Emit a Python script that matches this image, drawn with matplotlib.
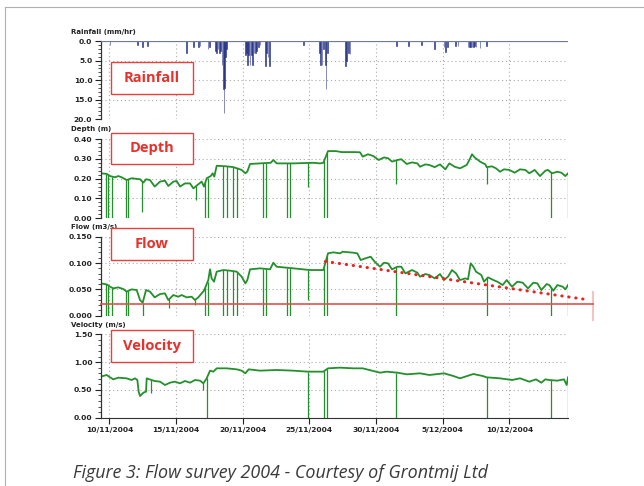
import numpy as np
import matplotlib
matplotlib.use('Agg')
import matplotlib.pyplot as plt
import matplotlib.dates as mdates
from matplotlib.ticker import MultipleLocator, FormatStrFormatter
from matplotlib.patches import Rectangle
from matplotlib.lines import Line2D
from datetime import datetime

# ---- data (days after 10/11/2004 00:00) ----
rain_days = [0.05, 2.1, 2.5, 2.85, 5.8, 6.3, 6.7, 6.8, 7.4, 7.5,
             7.95, 8.05, 8.15, 8.25, 8.35, 8.45, 8.55, 8.6, 8.65, 8.72, 8.8,
             10.2, 10.3, 10.35, 10.45, 10.55, 10.65, 10.75, 10.85, 10.95, 11.05, 11.2, 11.3,
             11.7, 11.8, 11.9, 12.0, 14.55,
             15.75, 15.85, 15.95, 16.05, 16.2, 16.25, 16.35,
             17.7, 17.8, 17.95, 18.05,
             21.56, 22.43, 23.43, 24.38, 25.1, 25.2, 25.35, 25.95, 26.15,
             26.9, 27.0, 27.1, 27.2, 27.3, 27.4, 27.5, 27.8, 28.3]
rain_vals = [1.0, 1.0, 1.5, 1.2, 3.0, 1.5, 1.5, 1.2, 2.0, 1.5,
             2.5, 3.0, 2.0, 3.0, 2.5, 6.0, 12.3, 18.5, 12.0, 4.0, 2.0,
             3.5, 3.0, 6.2, 3.5, 6.2, 3.5, 6.0, 3.0, 3.0, 2.5, 1.5, 1.0,
             6.3, 3.0, 4.0, 6.3, 1.0,
             3.0, 6.0, 6.0, 2.0, 6.0, 12.2, 3.0,
             6.3, 5.0, 3.0, 3.2,
             1.2, 1.2, 1.0, 2.0, 1.5, 2.8, 1.5, 1.2, 1.2,
             1.5, 1.5, 1.5, 1.5, 1.5, 1.2, 1.5, 1.8, 1.2]

depth_days = [-0.65, -0.2, 0.05, 0.42, 0.67, 0.92, 1.3, 1.67, 2.3, 2.55, 2.75, 3.05,
              3.4, 3.8, 4.17, 4.42, 4.8, 5.05, 5.3, 5.67, 6.05, 6.3, 6.55, 6.92, 7.1,
              7.3, 7.6, 7.75, 7.87, 8.05, 8.3, 8.8, 9.3, 9.67, 9.92, 10.2, 10.35, 10.55,
              11.3, 12.1, 12.3, 12.55, 13.8, 15.3, 15.8, 16.05, 16.4, 17.0, 17.4, 18.4,
              18.8, 19.0, 19.4, 19.8, 20.2, 20.6, 20.9, 21.2, 21.6, 21.9, 22.3, 22.7,
              23.1, 23.3, 23.7, 24.0, 24.4, 24.8, 25.2, 25.5, 25.9, 26.3, 26.8, 27.0,
              27.2, 27.4, 27.8, 28.2, 28.3, 28.7, 29.0, 29.3, 29.6, 30.0, 30.4, 30.8,
              31.2, 31.5, 31.9, 32.3, 32.7, 32.9, 33.2, 33.6, 33.9, 34.2, 34.4]
depth_vals = [0.227, 0.224, 0.213, 0.207, 0.213, 0.207, 0.193, 0.202, 0.197, 0.180, 0.197, 0.193,
              0.160, 0.185, 0.190, 0.163, 0.185, 0.188, 0.160, 0.176, 0.176, 0.151, 0.165, 0.185, 0.160,
              0.202, 0.213, 0.227, 0.210, 0.265, 0.264, 0.262, 0.258, 0.250, 0.244, 0.227, 0.236, 0.274,
              0.277, 0.280, 0.294, 0.277, 0.277, 0.280, 0.277, 0.280, 0.339, 0.339, 0.334, 0.334,
              0.333, 0.311, 0.323, 0.314, 0.294, 0.307, 0.303, 0.286, 0.294, 0.298, 0.274, 0.282,
              0.277, 0.260, 0.272, 0.269, 0.258, 0.272, 0.247, 0.277, 0.260, 0.252, 0.269, 0.294,
              0.323, 0.307, 0.286, 0.272, 0.258, 0.262, 0.252, 0.235, 0.247, 0.244, 0.230, 0.247,
              0.244, 0.227, 0.244, 0.213, 0.240, 0.244, 0.227, 0.235, 0.230, 0.213, 0.227]
depth_drop_days = [-0.27, -0.07, 0.23, 1.25, 1.42, 2.42, 6.5, 7.2, 7.37, 8.55, 8.8, 9.3, 9.55,
                   11.55, 11.72, 13.35, 13.55, 14.93, 16.1, 16.35, 21.5, 28.35, 33.1, 34.4]
depth_drop_low = [0, 0, 0, 0, 0, 0.03, 0.09, 0, 0, 0, 0, 0, 0,
                  0, 0, 0, 0, 0.16, 0, 0, 0.173, 0.173, 0, 0]

flow_days = [-0.65, -0.2, 0.05, 0.3, 0.67, 1.05, 1.3, 1.67, 2.05, 2.3, 2.5, 2.75, 3.05,
             3.4, 3.8, 4.17, 4.42, 4.8, 5.17, 5.42, 5.8, 6.17, 6.42, 6.67, 6.92, 7.1,
             7.42, 7.55, 7.67, 7.85, 8.05, 8.55, 9.05, 9.55, 9.92, 10.2, 10.35, 10.55,
             11.3, 12.05, 12.3, 12.55, 13.8, 15.05, 15.8, 16.05, 16.4, 16.8, 17.3, 17.5,
             18.3, 18.6, 18.85, 19.2, 19.6, 19.9, 20.3, 20.6, 20.9, 21.2, 21.6, 21.9,
             22.2, 22.7, 23.1, 23.3, 23.7, 24.0, 24.4, 24.8, 25.1, 25.4, 25.7, 26.0,
             26.3, 26.7, 26.9, 27.1, 27.3, 27.5, 27.9, 28.1, 28.4, 28.8, 29.1, 29.5,
             29.8, 30.2, 30.6, 31.0, 31.4, 31.8, 32.1, 32.4, 32.8, 33.0, 33.3, 33.6,
             34.0, 34.2, 34.4]
flow_vals = [0.0614, 0.0595, 0.0551, 0.0519, 0.0538, 0.0506, 0.0456, 0.0500, 0.0487, 0.0297, 0.0247, 0.0487, 0.0456,
             0.0348, 0.0411, 0.0424, 0.0297, 0.0392, 0.0361, 0.0392, 0.0348, 0.0361, 0.0297, 0.0348, 0.0424, 0.0475,
             0.0677, 0.0880, 0.0709, 0.0646, 0.0836, 0.0867, 0.0855, 0.0836, 0.0741, 0.0614, 0.0677, 0.0880,
             0.0899, 0.0880, 0.1006, 0.0930, 0.0899, 0.0867, 0.0867, 0.0867, 0.1184, 0.1203, 0.1184, 0.1215,
             0.1196, 0.1184, 0.1057, 0.1089, 0.1120, 0.1025, 0.0930, 0.1006, 0.0994, 0.0880, 0.0930, 0.0930,
             0.0804, 0.0867, 0.0817, 0.0741, 0.0791, 0.0772, 0.0709, 0.0791, 0.0677, 0.0741, 0.0867, 0.0804,
             0.0677, 0.0709, 0.0690, 0.0994, 0.0930, 0.0836, 0.0772, 0.0646, 0.0728, 0.0677, 0.0646, 0.0582,
             0.0677, 0.0551, 0.0646, 0.0627, 0.0519, 0.0627, 0.0614, 0.0487, 0.0601, 0.0582, 0.0475, 0.0582,
             0.0551, 0.0500, 0.0582]
flow_drop_days = [-0.27, -0.07, 0.23, 1.25, 1.42, 2.5, 4.5, 6.45, 7.2, 7.37, 8.55, 8.8, 9.3, 9.55,
                  11.55, 11.72, 13.35, 13.55, 14.93, 16.1, 16.35, 21.5, 28.35, 33.1, 34.42]
flow_drop_low = [0, 0, 0, 0, 0, 0, 0.015, 0.02, 0, 0, 0, 0, 0, 0,
                 0, 0, 0, 0, 0.03, 0, 0, 0, 0, 0, 0]
flow_threshold = 0.022
threshold_end_day = 36.3
trend_days = [16.2, 35.7]
trend_vals = [0.103, 0.031]

vel_days = [-0.65, -0.2, 0.05, 0.3, 0.67, 1.3, 1.67, 1.92, 2.1, 2.2, 2.3, 2.55, 2.75, 2.8,
            3.0, 3.4, 3.8, 4.17, 4.55, 4.92, 5.3, 5.67, 6.05, 6.42, 6.8, 7.05, 7.3, 7.55,
            7.8, 8.05, 8.8, 9.55, 9.92, 10.2, 10.45, 11.3, 12.55, 13.8, 14.9, 15.8, 16.05,
            16.4, 17.3, 18.3, 19.0, 19.5, 20.3, 20.8, 21.6, 22.3, 23.3, 24.0, 25.1, 25.8,
            26.3, 27.3, 28.0, 28.3, 29.3, 30.2, 30.8, 31.5, 32.0, 32.4, 32.7, 33.0, 33.6,
            34.1, 34.3, 34.4]
vel_vals = [0.738, 0.768, 0.726, 0.690, 0.720, 0.708, 0.678, 0.708, 0.678, 0.468, 0.390, 0.450, 0.468, 0.708,
            0.690, 0.660, 0.648, 0.588, 0.630, 0.648, 0.618, 0.660, 0.630, 0.678, 0.666, 0.618, 0.708, 0.846,
            0.828, 0.888, 0.888, 0.870, 0.846, 0.798, 0.870, 0.846, 0.858, 0.846, 0.828, 0.828, 0.828,
            0.888, 0.900, 0.888, 0.888, 0.858, 0.810, 0.828, 0.810, 0.780, 0.798, 0.768, 0.798, 0.750,
            0.708, 0.786, 0.750, 0.726, 0.708, 0.678, 0.708, 0.648, 0.690, 0.630, 0.690, 0.678, 0.666,
            0.690, 0.588, 0.726]
vel_drop_days = [3.15, 7.0, 7.3, 14.9, 16.1, 16.35, 21.5, 28.35, 33.1, 34.4]
vel_drop_low = [0.44, 0.5, 0, 0, 0, 0, 0, 0, 0, 0]

tick_days = [0, 5, 10, 15, 20, 25, 30]
tick_labels = ['10/11/2004', '15/11/2004', '20/11/2004', '25/11/2004',
               '30/11/2004', '5/12/2004', '10/12/2004']

t0 = mdates.date2num(datetime(2004, 11, 10))
green = '#23902c'
W, H = 644, 486

fig = plt.figure(figsize=(6.44, 4.86), dpi=100)

def px_box(top, bottom, left=100.7, right=568):
    return [left / W, 1 - bottom / H, (right - left) / W, (bottom - top) / H]

ax_r = fig.add_axes(px_box(41.3, 119))
ax_d = fig.add_axes(px_box(139, 218.3))
ax_f = fig.add_axes(px_box(236.7, 315.7))
ax_v = fig.add_axes(px_box(334.3, 417.7))
axes = [ax_r, ax_d, ax_f, ax_v]

for ax in axes:
    for s in ['top', 'right', 'bottom']:
        ax.spines[s].set_visible(False)
    ax.spines['left'].set_color('#333333')
    ax.spines['left'].set_linewidth(0.9)
    ax.set_xlim(t0 - 0.65, t0 + 34.4)
    ax.set_xticks(t0 + np.array(tick_days))
    ax.tick_params(axis='x', which='both', length=0, labelbottom=False)
    ax.tick_params(axis='y', which='major', length=4, width=0.8, labelsize=5.4,
                   pad=2, colors='#222222')
    ax.tick_params(axis='y', which='minor', length=2, width=0.6, colors='#333333')
    ax.grid(True, which='major', ls=(0, (1, 2.5)), color='#aaaaaa', lw=0.8)
    ax.set_axisbelow(True)

# rainfall
ax_r.bar(t0 + np.array(rain_days), rain_vals, width=0.07, color='#1e2a7e',
         edgecolor='#2a3688', lw=0.4)
ax_r.axhline(0, color='#6c7aa8', lw=1.6, zorder=3)
ax_r.set_ylim(20, 0)
ax_r.yaxis.set_major_locator(MultipleLocator(5))
ax_r.yaxis.set_minor_locator(MultipleLocator(1))
ax_r.yaxis.set_major_formatter(FormatStrFormatter('%.1f'))

def trace(ax, days, vals, drop_days, drop_low):
    x = t0 + np.array(days)
    ax.plot(x, vals, color=green, lw=1.3)
    tops = np.interp(drop_days, days, vals)
    ax.vlines(t0 + np.array(drop_days), drop_low, tops, color=green, lw=0.9)

trace(ax_d, depth_days, depth_vals, depth_drop_days, depth_drop_low)
ax_d.set_ylim(0, 0.40)
ax_d.yaxis.set_major_locator(MultipleLocator(0.1))
ax_d.yaxis.set_minor_locator(MultipleLocator(0.02))
ax_d.yaxis.set_major_formatter(FormatStrFormatter('%.2f'))

trace(ax_f, flow_days, flow_vals, flow_drop_days, flow_drop_low)
ax_f.set_ylim(0, 0.15)
ax_f.yaxis.set_major_locator(MultipleLocator(0.05))
ax_f.yaxis.set_minor_locator(MultipleLocator(0.01))
ax_f.yaxis.set_major_formatter(FormatStrFormatter('%.3f'))
ax_f.plot([t0 - 0.65, t0 + threshold_end_day], [flow_threshold, flow_threshold],
          color='#d9534f', lw=1.4, alpha=0.85, clip_on=False, zorder=4)
ax_f.plot([t0 + threshold_end_day] * 2, [-0.008, 0.045], color='#f3c4c4', lw=1.5,
          clip_on=False, zorder=3)
ax_f.plot(t0 + np.array(trend_days), trend_vals, color='#ee2020', lw=2.2,
          ls=(0, (0.1, 2.2)), dash_capstyle='round', clip_on=False, zorder=5)

trace(ax_v, vel_days, vel_vals, vel_drop_days, vel_drop_low)
ax_v.set_ylim(0, 1.5)
ax_v.yaxis.set_major_locator(MultipleLocator(0.5))
ax_v.yaxis.set_minor_locator(MultipleLocator(0.1))
ax_v.yaxis.set_major_formatter(FormatStrFormatter('%.2f'))
ax_v.spines['bottom'].set_visible(True)
ax_v.spines['bottom'].set_color('#333333')
ax_v.tick_params(axis='x', which='major', length=4, width=0.8, labelbottom=True,
                 labelsize=5.4, pad=3, colors='#222222')
ax_v.set_xticklabels(tick_labels)

for ax in axes:
    for lab in ax.get_yticklabels() + ax.get_xticklabels():
        lab.set_fontweight('bold')

# panel titles
for txt, y in [('Rainfall (mm/hr)', 32), ('Depth (m)', 129.5),
               ('Flow (m3/s)', 226.5), ('Velocity (m/s)', 325)]:
    fig.text(71 / W, 1 - y / H, txt, fontsize=5.0, fontweight='bold',
             color='#222222', va='center', ha='left')

# red label boxes
for txt, top, bot in [('Rainfall', 62, 94), ('Depth', 132.7, 164),
                      ('Flow', 228, 260), ('Velocity', 330, 361.7)]:
    fig.add_artist(Rectangle((111 / W, 1 - bot / H), 82 / W, (bot - top) / H,
                             transform=fig.transFigure, fc='white', ec='#e8403a',
                             lw=1.0, zorder=10))
    fig.text(152 / W, 1 - (top + bot) / 2 / H, txt, fontsize=10.5, fontweight='bold',
             family='Open Sans', color='#e8312a', ha='center', va='center', zorder=11)

# frame
fig.add_artist(Line2D([5 / W, 5 / W], [0, 1 - 7 / H], transform=fig.transFigure,
                      color='#b0b0b0', lw=0.8))
fig.add_artist(Line2D([5 / W, 1], [1 - 7 / H, 1 - 7 / H], transform=fig.transFigure,
                      color='#b0b0b0', lw=0.8))

fig.text(73 / W, 1 - 478 / H, 'Figure 3: Flow survey 2004 - Courtesy of Grontmij Ltd',
         fontsize=12.9, style='italic', family='Open Sans', color='#3a3a3a', va='baseline')

fig.savefig('out.png', dpi=100)
